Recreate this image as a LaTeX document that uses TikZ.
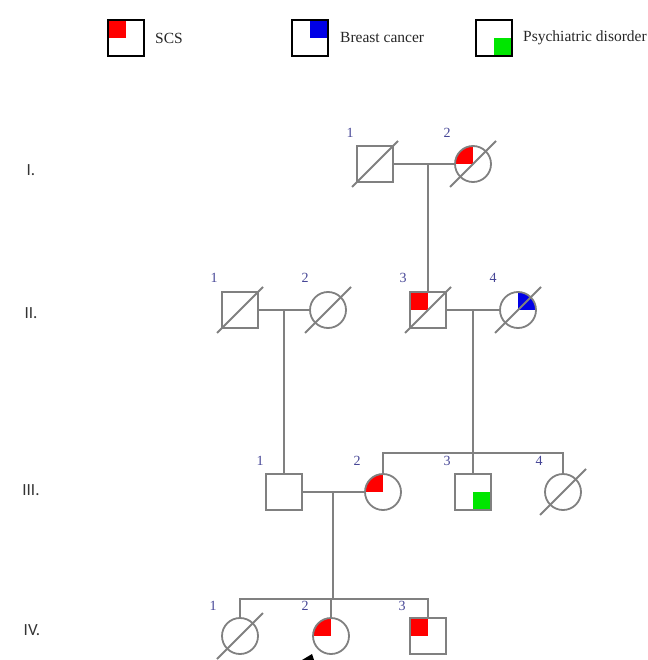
\documentclass[tikz,border=0pt]{standalone}
\usepackage{fontspec}
\setmainfont{Liberation Serif}
\newfontfamily\genfont{Carlito}
\definecolor{lgray}{RGB}{128,128,128}
\definecolor{numblue}{RGB}{70,70,150}
\definecolor{scsred}{RGB}{255,0,0}
\definecolor{bcblue}{RGB}{0,0,230}
\definecolor{psygreen}{RGB}{0,230,0}
\begin{document}
\begin{tikzpicture}[x=1pt,y=-1pt,
  male/.style={draw=lgray, line width=1.8pt, rectangle, minimum size=36pt, inner sep=0pt},
  female/.style={draw=lgray, line width=1.8pt, circle, minimum size=36pt, inner sep=0pt},
  legbox/.style={draw=black, line width=1.4pt, rectangle, minimum size=36pt, inner sep=0pt},
  scs/.style={path picture={\fill[scsred] (path picture bounding box.center) rectangle (path picture bounding box.north west);}},
  bc/.style={path picture={\fill[bcblue] (path picture bounding box.center) rectangle (path picture bounding box.north east);}},
  psy/.style={path picture={\fill[psygreen] (path picture bounding box.center) rectangle (path picture bounding box.south east);}},
  conn/.style={draw=lgray, line width=1.8pt},
  num/.style={font=\fontsize{14}{14}\selectfont, text=numblue, inner sep=0pt},
  gen/.style={font=\genfont\fontsize{17}{17}\selectfont, text=black!80, inner sep=0pt},
  legtext/.style={font=\fontsize{15.5}{15.5}\selectfont, text=black!85, inner sep=0pt, anchor=west}
]
\useasboundingbox (0,0) rectangle (647,660);

% legend
\node[legbox, scs] (L1) at (126,38) {};
\node[legtext] (T1) at (155,38) {SCS};
\node[legbox, bc] (L2) at (310,38) {};
\node[legtext] (T2) at (340,38) {Breast cancer};
\node[legbox, psy] (L3) at (494,38) {};
\node[legtext] (T3) at (523,38) {Psychiatric disorder};

% generation labels
\node[gen] (gI) at (31,170) {I.};
\node[gen] (gII) at (31,313) {II.};
\node[gen] (gIII) at (31,490) {III.};
\node[gen] (gIV) at (32,630) {IV.};

% generation I
\node[male] (I1) at (375,164) {};
\node[female, scs] (I2) at (473,164) {};
% generation II
\node[male] (II1) at (240,310) {};
\node[female] (II2) at (328,310) {};
\node[male, scs] (II3) at (428,310) {};
\node[female, bc] (II4) at (518,310) {};
% generation III
\node[male] (III1) at (284,492) {};
\node[female, scs] (III2) at (383,492) {};
\node[male, psy] (III3) at (473,492) {};
\node[female] (III4) at (563,492) {};
% generation IV
\node[female] (IV1) at (240,636) {};
\node[female, scs] (IV2) at (331,636) {};
\node[male, scs] (IV3) at (428,636) {};

% deceased slashes
\foreach \n in {I1,I2,II1,II2,II3,II4,III4,IV1}
  \draw[conn] (\n.center) ++(-23,23) -- ++(46,-46);

% individual numbers
\node[num] (nI1) at (350,133) {1};
\node[num] (nI2) at (447,133) {2};
\node[num] (nII1) at (214,278) {1};
\node[num] (nII2) at (305,278) {2};
\node[num] (nII3) at (403,278) {3};
\node[num] (nII4) at (493,278) {4};
\node[num] (nIII1) at (260,461) {1};
\node[num] (nIII2) at (357,461) {2};
\node[num] (nIII3) at (447,461) {3};
\node[num] (nIII4) at (539,461) {4};
\node[num] (nIV1) at (213,606) {1};
\node[num] (nIV2) at (305,606) {2};
\node[num] (nIV3) at (402,606) {3};

% connectors
\coordinate (mI) at (428,164);
\draw[conn] (I1.east) -- (I2.west);
\draw[conn] (mI) -- (II3.north);

\coordinate (mII1) at (284,310);
\draw[conn] (II1.east) -- (II2.west);
\draw[conn] (mII1) -- (III1.north);

\coordinate (mII2) at (473,310);
\draw[conn] (II3.east) -- (II4.west);
\draw[conn] (mII2) -- (III3.north);
\coordinate (sIII) at (473,453);
\draw[conn] (III2.north) |- (sIII) -| (III4.north);

\coordinate (mIII) at (333,492);
\coordinate (sIV) at (333,599);
\draw[conn] (III1.east) -- (III2.west);
\draw[conn] (mIII) -- (sIV);
\draw[conn] (IV1.north) |- (sIV) -| (IV3.north);
\draw[conn] (IV2.north |- sIV) -- (IV2.north);

% cursor fragment
\fill[black] (302,660) -- (312,654) -- (314,660) -- cycle;
\end{tikzpicture}
\end{document}
